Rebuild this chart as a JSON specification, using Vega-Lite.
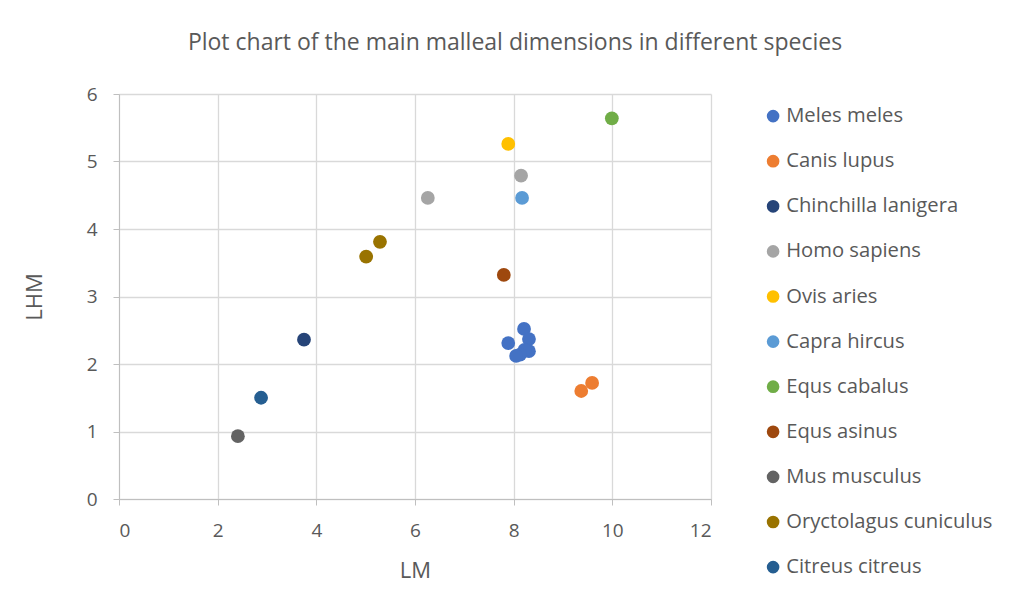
{
  "$schema": "https://vega.github.io/schema/vega-lite/v6.json",
  "autosize": {"type": "none"},
  "width": 592,
  "height": 405,
  "padding": {"left": 119, "top": 94, "right": 317, "bottom": 116},
  "background": "white",
  "title": {
    "text": "Plot chart of the main malleal dimensions in different species",
    "font": "Open Sans",
    "fontSize": 23,
    "fontWeight": "normal",
    "color": "#595959",
    "anchor": "middle",
    "dx": 100,
    "offset": 30
  },
  "data": {
    "values": [
      {"species": "Meles meles", "LM": 8.21, "LHM": 2.52},
      {"species": "Meles meles", "LM": 7.89, "LHM": 2.31},
      {"species": "Meles meles", "LM": 8.31, "LHM": 2.37},
      {"species": "Meles meles", "LM": 8.31, "LHM": 2.19},
      {"species": "Meles meles", "LM": 8.22, "LHM": 2.21},
      {"species": "Meles meles", "LM": 8.13, "LHM": 2.14},
      {"species": "Meles meles", "LM": 8.05, "LHM": 2.12},
      {"species": "Canis lupus", "LM": 9.37, "LHM": 1.6},
      {"species": "Canis lupus", "LM": 9.59, "LHM": 1.72},
      {"species": "Chinchilla lanigera", "LM": 3.75, "LHM": 2.36},
      {"species": "Homo sapiens", "LM": 8.15, "LHM": 4.79},
      {"species": "Homo sapiens", "LM": 6.26, "LHM": 4.46},
      {"species": "Ovis aries", "LM": 7.89, "LHM": 5.26},
      {"species": "Capra hircus", "LM": 8.17, "LHM": 4.46},
      {"species": "Equs cabalus", "LM": 9.99, "LHM": 5.64},
      {"species": "Equs asinus", "LM": 7.8, "LHM": 3.32},
      {"species": "Mus musculus", "LM": 2.41, "LHM": 0.93},
      {"species": "Oryctolagus cuniculus", "LM": 5.29, "LHM": 3.81},
      {"species": "Oryctolagus cuniculus", "LM": 5.01, "LHM": 3.59},
      {"species": "Citreus citreus", "LM": 2.88, "LHM": 1.5}
    ]
  },
  "mark": {"type": "circle", "size": 190, "opacity": 1},
  "encoding": {
    "x": {
      "field": "LM",
      "type": "quantitative",
      "scale": {"domain": [0, 12], "nice": false},
      "axis": {"values": [0, 2, 4, 6, 8, 10, 12], "title": "LM", "titlePadding": 20, "labelPadding": 16}
    },
    "y": {
      "field": "LHM",
      "type": "quantitative",
      "scale": {"domain": [0, 6], "nice": false},
      "axis": {"values": [0, 1, 2, 3, 4, 5, 6], "title": "LHM", "titlePadding": 40, "labelPadding": 16}
    },
    "color": {
      "field": "species",
      "type": "nominal",
      "scale": {
        "domain": ["Meles meles", "Canis lupus", "Chinchilla lanigera", "Homo sapiens", "Ovis aries", "Capra hircus", "Equs cabalus", "Equs asinus", "Mus musculus", "Oryctolagus cuniculus", "Citreus citreus"],
        "range": ["#4472C4", "#ED7D31", "#264478", "#A5A5A5", "#FFC000", "#5B9BD5", "#70AD47", "#9E480E", "#636363", "#997300", "#255E91"]
      },
      "legend": {
        "title": null,
        "orient": "none",
        "legendX": 644,
        "legendY": 12,
        "symbolType": "circle",
        "symbolSize": 160,
        "labelFontSize": 20.2,
        "labelFont": "Open Sans",
        "labelColor": "#595959",
        "labelLimit": 0,
        "rowPadding": 24.1,
        "labelOffset": 3
      }
    }
  },
  "config": {
    "view": {"stroke": null},
    "axis": {
      "labelFont": "Open Sans",
      "titleFont": "Open Sans",
      "labelFontSize": 19,
      "titleFontSize": 22,
      "titleFontWeight": "normal",
      "labelColor": "#595959",
      "titleColor": "#595959",
      "gridColor": "#d9d9d9",
      "gridWidth": 1.3,
      "domainColor": "#bfbfbf",
      "tickColor": "#bfbfbf",
      "tickSize": 6
    }
  }
}
